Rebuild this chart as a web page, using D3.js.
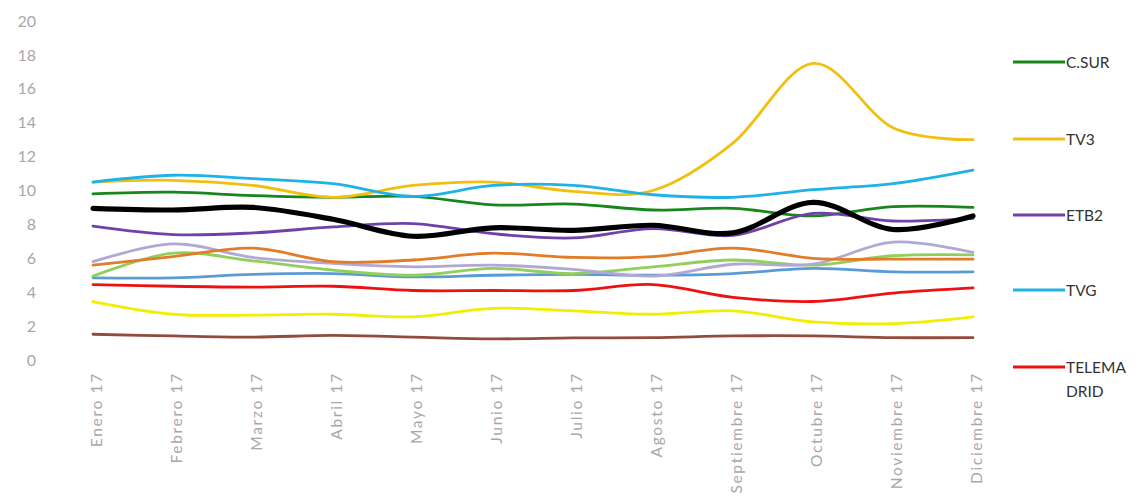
<!DOCTYPE html>
<html>
<head>
<meta charset="utf-8">
<script src="https://cdn.jsdelivr.net/npm/d3@7"></script>
<style>
  html, body { margin: 0; padding: 0; background: #fff; }
  svg { display: block; }
</style>
</head>
<body>
<svg id="chart" width="1144" height="497"></svg>
<script>
// ---- data ----
const months = ["Enero 17","Febrero 17","Marzo 17","Abril 17","Mayo 17","Junio 17",
                "Julio 17","Agosto 17","Septiembre 17","Octubre 17","Noviembre 17","Diciembre 17"];
const yTicks = [0,2,4,6,8,10,12,14,16,18,20];

const cSur       = [9.8, 9.9, 9.7, 9.6, 9.65, 9.15, 9.2, 8.85, 8.95, 8.5, 9.05, 9.0];
const tv3        = [10.5, 10.6, 10.3, 9.6, 10.3, 10.5, 9.95, 10.0, 12.8, 17.5, 13.7, 13.0];
const etb2       = [7.9, 7.4, 7.5, 7.85, 8.05, 7.45, 7.2, 7.75, 7.35, 8.65, 8.2, 8.35];
const tvg        = [10.5, 10.9, 10.7, 10.4, 9.65, 10.3, 10.3, 9.75, 9.6, 10.05, 10.4, 11.2];
const telemadrid = [4.45, 4.35, 4.3, 4.35, 4.1, 4.1, 4.1, 4.45, 3.7, 3.45, 3.95, 4.25];
const serieOrange   = [5.6, 6.1, 6.6, 5.8, 5.9, 6.3, 6.05, 6.1, 6.6, 6.0, 5.95, 5.95];
const serieLavender = [5.8, 6.85, 6.05, 5.7, 5.5, 5.6, 5.35, 4.95, 5.65, 5.65, 6.95, 6.35];
const serieLtGreen  = [4.95, 6.3, 5.85, 5.3, 5.0, 5.4, 5.1, 5.5, 5.9, 5.6, 6.15, 6.2];
const serieSteel    = [4.85, 4.85, 5.05, 5.1, 4.9, 5.0, 5.05, 5.0, 5.1, 5.4, 5.2, 5.2];
const serieYellow   = [3.45, 2.7, 2.65, 2.7, 2.55, 3.05, 2.9, 2.7, 2.9, 2.25, 2.15, 2.55];
const serieBrown    = [1.52, 1.42, 1.35, 1.45, 1.35, 1.25, 1.3, 1.32, 1.42, 1.42, 1.32, 1.32];
const serieBlack    = [8.95, 8.85, 9.0, 8.3, 7.3, 7.8, 7.65, 7.95, 7.5, 9.3, 7.7, 8.5];

// series table (drawn in this order)
const series = [
  { name: "brown",      values: serieBrown,    color: "#924c3e", width: 2.8, legend: false },
  { name: "yellow",     values: serieYellow,   color: "#f2ee00", width: 2.8, legend: false },
  { name: "steel",      values: serieSteel,    color: "#5b9bd5", width: 2.8, legend: false },
  { name: "ltgreen",    values: serieLtGreen,  color: "#8fcf5a", width: 2.8, legend: false },
  { name: "lavender",   values: serieLavender, color: "#b2a8d6", width: 2.8, legend: false },
  { name: "orange",     values: serieOrange,   color: "#e07c2a", width: 2.8, legend: false },
  { name: "C.SUR",      values: cSur,          color: "#17871c", width: 2.8, legend: true },
  { name: "TV3",        values: tv3,           color: "#f0c010", width: 2.8, legend: true },
  { name: "ETB2",       values: etb2,          color: "#7042a8", width: 2.8, legend: true },
  { name: "TVG",        values: tvg,           color: "#1fb2e6", width: 2.8, legend: true },
  { name: "TELEMADRID", values: telemadrid,    color: "#ee1111", width: 2.8, legend: true },
  { name: "black",      values: serieBlack,    color: "#000000", width: 5.2, legend: false }
];

// ---- layout ----
const svg = d3.select("#chart");
const FONT = "Lato, 'Open Sans', sans-serif";

const x = d3.scalePoint().domain(months).range([93, 973]);
const y = d3.scaleLinear().domain([0, 20]).range([360, 21]);

// y axis labels (no line)
const yAxis = d3.axisLeft(y).tickValues(yTicks).tickSize(0).tickPadding(0);
const gy = svg.append("g").attr("transform", "translate(36,0)").call(yAxis);
gy.select(".domain").remove();
gy.selectAll("text")
  .attr("fill", "#a8a8a8")
  .attr("font-family", FONT)
  .attr("font-size", 16);

// x axis labels, rotated
const xAxis = d3.axisBottom(x).tickSize(0).tickPadding(0);
const gx = svg.append("g").attr("transform", "translate(0,372)").call(xAxis);
gx.select(".domain").remove();
gx.selectAll("text")
  .attr("fill", "#a8a8a8")
  .attr("font-family", FONT)
  .attr("font-size", 15.5)
  .attr("letter-spacing", "1.7px")
  .attr("text-anchor", "end")
  .attr("transform", "rotate(-90)")
  .attr("x", 0)
  .attr("y", 3)
  .attr("dy", "0.35em");

// lines
const line = d3.line()
  .x((d, i) => x(months[i]))
  .y(d => y(d))
  .curve(d3.curveCardinal.tension(0));

svg.append("g").selectAll("path")
  .data(series)
  .join("path")
  .attr("d", d => line(d.values))
  .attr("fill", "none")
  .attr("stroke", d => d.color)
  .attr("stroke-width", d => d.width)
  .attr("stroke-linecap", "round")
  .attr("stroke-linejoin", "round");

// legend
const legendItems = series.filter(s => s.legend);
const legendY = [62, 139, 215, 290, 367];
const lg = svg.append("g");
legendItems.forEach((s, i) => {
  const g = lg.append("g").attr("transform", `translate(1013,${legendY[i]})`);
  g.append("line").attr("x1", 0).attr("x2", 52).attr("y1", 0).attr("y2", 0)
    .attr("stroke", s.color).attr("stroke-width", 3);
  const label = s.name === "TELEMADRID" ? ["TELEMA", "DRID"] : [s.name];
  const t = g.append("text")
    .attr("x", 53).attr("y", 0)
    .attr("fill", "#333")
    .attr("font-family", FONT)
    .attr("font-size", 15.5);
  label.forEach((l, j) => {
    t.append("tspan").attr("x", 53).attr("dy", j === 0 ? "0.36em" : "1.55em").text(l);
  });
});
</script>
</body>
</html>
